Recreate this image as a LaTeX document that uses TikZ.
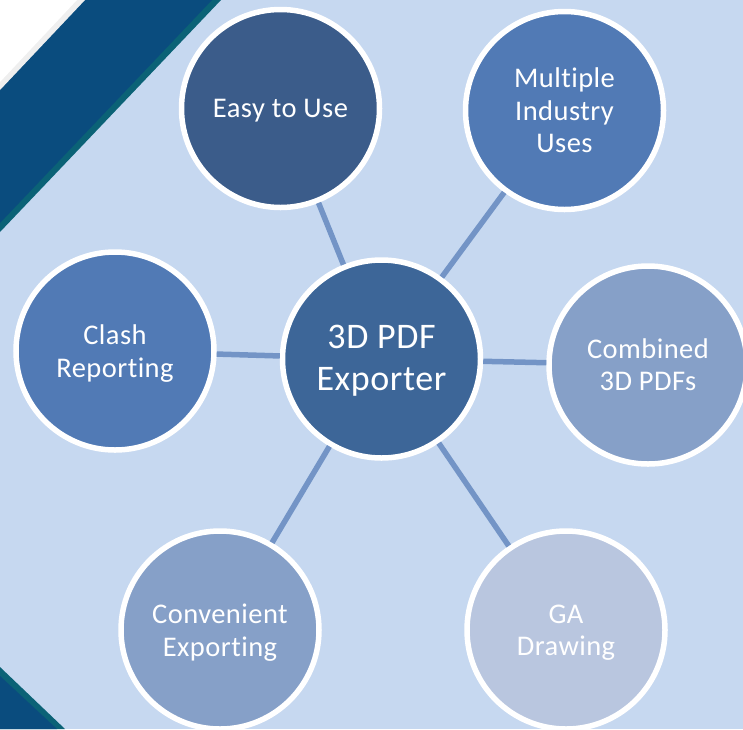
\documentclass[tikz,border=0pt]{standalone}
\usepackage{fontspec}
\setmainfont{Carlito}[Ligatures=NoCommon,LetterSpace=1.6]
\definecolor{bgc}{HTML}{C6D8F0}
\definecolor{bandc}{HTML}{0A4C7E}
\definecolor{tealc}{HTML}{0B6276}
\definecolor{grayc}{HTML}{EFEFEF}
\definecolor{linec}{HTML}{7394C6}
\definecolor{cEasy}{HTML}{3B5C8A}
\definecolor{cMid}{HTML}{517AB5}
\definecolor{cLight}{HTML}{86A0C8}
\definecolor{cPale}{HTML}{B9C6DF}
\definecolor{cHub}{HTML}{3D6698}
\tikzset{
  bubble/.style={circle,draw=white,line width=5.5pt,minimum size=198pt,inner sep=0pt},
  bubbletext/.style={align=center,text=white,inner sep=0pt,font=\fontsize{28.5}{32.5}\selectfont},
  hubtext/.style={bubbletext,font=\fontsize{36}{42}\selectfont},
  spoke/.style={draw=linec,line width=5.5pt}
}
\begin{document}
\begin{tikzpicture}[x=1pt,y=-1pt]
\useasboundingbox (0,0) rectangle (743,729);
\clip (0,0) rectangle (743,729);
\fill[bgc] (0,0) rectangle (743,729);
\fill[tealc] (0,0) -- (221,0) -- (0,232) -- cycle;
\fill[bandc] (0,0) -- (212,0) -- (0,223) -- cycle;
\fill[grayc] (0,0) -- (85,0) -- (0,90) -- cycle;
\fill[white] (0,0) -- (77,0) -- (0,82) -- cycle;
\fill[tealc] (0,667) -- (65,729) -- (0,729) -- cycle;
\fill[bandc] (0,676) -- (57,729) -- (0,729) -- cycle;
\node[bubble,fill=cHub,label={[hubtext,yshift=-2pt]center:3D PDF\\Exporter}] (hubnode) at (381.5,359) {};
\node[bubble,fill=cEasy,label={[bubbletext,yshift=-2.5pt]center:Easy to Use}] (easy) at (280.5,108.5) {};
\node[bubble,fill=cMid,label={[bubbletext,yshift=0pt]center:Multiple\\Industry\\Uses}] (multi) at (564.5,110.5) {};
\node[bubble,fill=cLight,label={[bubbletext,yshift=0.5pt]center:Combined\\3D PDFs}] (comb) at (648,365) {};
\node[bubble,fill=cPale,label={[bubbletext,yshift=-2.5pt]center:GA\\Drawing}] (ga) at (566,630) {};
\node[bubble,fill=cLight,label={[bubbletext,yshift=-2.5pt]center:Convenient\\Exporting}] (conv) at (220,630) {};
\node[bubble,fill=cMid,label={[bubbletext,yshift=-2.5pt]center:Clash\\Reporting}] (clash) at (115,351) {};
\foreach \n in {easy,multi,comb,ga,conv,clash}
  \draw[spoke] (hubnode) -- (\n);
\end{tikzpicture}
\end{document}
